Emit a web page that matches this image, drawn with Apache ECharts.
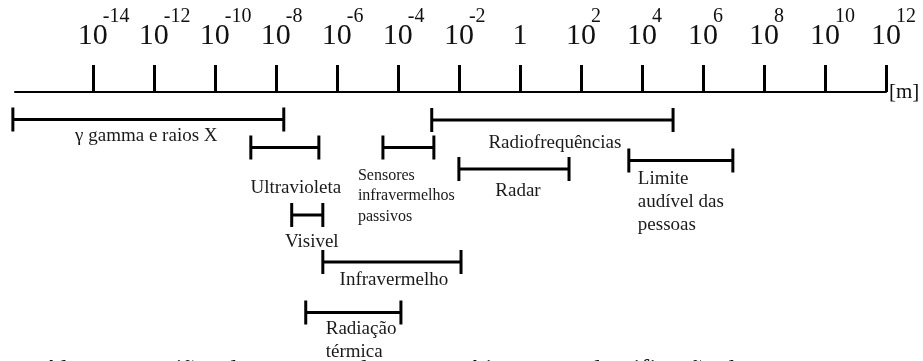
<!DOCTYPE html>
<html><head><meta charset="utf-8">
<script src="https://cdn.jsdelivr.net/npm/echarts@6/dist/echarts.min.js"></script>
<style>html,body{margin:0;padding:0;background:#fff}#c{width:923px;height:361px}</style>
</head><body><div id="c"></div>
<script>
// Tick exponents (wavelength in metres, 10^e)
const tickExponents = [-14,-12,-10,-8,-6,-4,-2,0,2,4,6,8,10,12];
// Bands (log10 of wavelength in metres)
const bandNames = ['γ gamma e raios X','Radiofrequências','Ultravioleta','Sensores\ninfravermelhos\npassivos','Radar','Limite\naudível das\npessoas','Visivel','Infravermelho','Radiação\ntérmica'];
const bandStart = [-16.62, -2.89, -8.82, -4.49, -2.00, 3.57, -7.48, -6.46, -7.02];
const bandEnd   = [-7.74, 5.02, -6.59, -2.82, 1.61, 6.98, -6.46, -1.93, -3.90];
const bandRow   = [27.5, 28, 55.5, 55.5, 77, 68.5, 123, 170, 220.5];
const axisUnit = '[m]';
const caption = 'Algumas regiões do espectro eletromagnético e sua classificação de';

// label layout (styling only)
const labelLayout = [
  {anchor:'center', dx:-2,  dy:17, fs:19, lh:22},
  {anchor:'center', dx:2.5, dy:23, fs:19, lh:22},
  {anchor:'center', dx:11,  dy:41, fs:19, lh:22},
  {anchor:'left',   dx:-25, dy:28, fs:16, lh:20.5},
  {anchor:'center', dx:4,   dy:22, fs:19, lh:22},
  {anchor:'left',   dx:9,   dy:19, fs:19, lh:23},
  {anchor:'center', dx:4.5, dy:27, fs:19, lh:22},
  {anchor:'center', dx:2,   dy:18, fs:19, lh:22},
  {anchor:'left',   dx:20,  dy:17, fs:19, lh:23}
];

const FONT = 'Liberation Serif';
const data = bandNames.map((n, i) => [bandStart[i], bandEnd[i], bandRow[i], i]);
const X_MIN = -16.55, X_MAX = 12;

const chart = echarts.init(document.getElementById('c'), null, {renderer:'canvas'});
chart.setOption({
  animation: false,
  backgroundColor: '#fff',
  grid: {left: 15, right: 37, top: 92, bottom: 0, outerBoundsMode: 'none', containLabel: false},
  xAxis: [{
    // base axis: line, ticks and the "10" / "1" part of the labels
    type: 'value', position: 'top', min: X_MIN, max: X_MAX,
    splitLine: {show: false},
    axisLine: {show: true, lineStyle: {color: '#000', width: 2}},
    axisTick: {show: true, customValues: tickExponents, length: 27, inside: false, lineStyle: {color: '#000', width: 3}},
    axisLabel: {
      show: true, customValues: tickExponents, margin: 41,
      showMinLabel: true, showMaxLabel: true, hideOverlap: false,
      fontFamily: FONT, fontSize: 30, color: '#111', lineHeight: 30,
      formatter: function (v) { return v === 0 ? '1' : '10'; }
    },
    name: axisUnit, nameLocation: 'end', nameGap: 3,
    nameTextStyle: {fontFamily: FONT, fontSize: 21, color: '#111', verticalAlign: 'middle', align: 'left'}
  }, {
    // exponent axis: superscripts only
    type: 'value', position: 'top', min: X_MIN, max: X_MAX,
    splitLine: {show: false}, axisLine: {show: false}, axisTick: {show: false},
    axisLabel: {
      show: true, customValues: tickExponents, margin: 65,
      showMinLabel: true, showMaxLabel: true, hideOverlap: false,
      align: 'left', padding: [0, 0, 0, 10],
      fontFamily: FONT, fontSize: 20, color: '#111', lineHeight: 20,
      formatter: function (v) { return v === 0 ? '' : String(v); }
    }
  }],
  yAxis: {type: 'value', min: 0, max: 269, inverse: true, show: false},
  series: [{
    type: 'custom',
    xAxisIndex: 0,
    clip: false,
    data: data,
    renderItem: function (params, api) {
      const i = api.value(3);
      const p1 = api.coord([api.value(0), api.value(2)]);
      const p2 = api.coord([api.value(1), api.value(2)]);
      const y = p1[1];
      const L = labelLayout[i];
      const ls = {stroke: '#000', lineWidth: 3};
      const tx = L.anchor === 'center' ? (p1[0] + p2[0]) / 2 + L.dx : p1[0] + L.dx;
      return {
        type: 'group',
        children: [
          {type: 'line', shape: {x1: p1[0], y1: y, x2: p2[0], y2: y}, style: ls},
          {type: 'line', shape: {x1: p1[0], y1: y - 12, x2: p1[0], y2: y + 12}, style: ls},
          {type: 'line', shape: {x1: p2[0], y1: y - 12, x2: p2[0], y2: y + 12}, style: ls},
          {type: 'text', x: tx, y: y + L.dy - L.lh / 2,
           style: {text: bandNames[i], fontFamily: FONT, fontSize: L.fs, lineHeight: L.lh,
                   fill: '#1a1a1a', align: L.anchor === 'center' ? 'center' : 'left', verticalAlign: 'top'}}
        ]
      };
    }
  }],
  graphic: [{
    type: 'text', left: 42, top: 357,
    style: {text: caption, fontFamily: FONT, fontSize: 26, fill: '#111'}
  }]
});
</script></body></html>
